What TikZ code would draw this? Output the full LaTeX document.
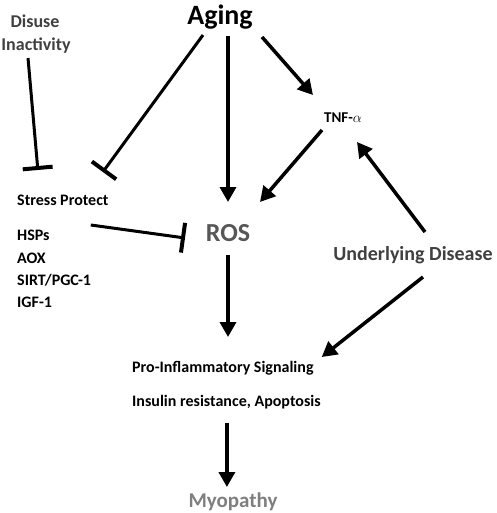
\documentclass[tikz,border=0pt]{standalone}
\usepackage{amsmath}
\usepackage{fontspec}
\setmainfont{Carlito}
\usepackage{tikz}
\usetikzlibrary{arrows.meta, calc, positioning}
\definecolor{txdark}{HTML}{404040}
\definecolor{txros}{HTML}{575757}
\definecolor{txmyo}{HTML}{7F7F7F}

\begin{document}
\begin{tikzpicture}[
    x=1pt, y=-1pt,
    lbl/.style={inner sep=0pt, font=\fontsize{16}{18}\selectfont\bfseries},
    arrow/.style={-{Triangle[length=15pt, width=16pt]}, line width=3.5pt, color=black},
    inhibit/.style={-{Bar[width=30pt, line width=4pt]}, line width=3pt, color=black}
]
\useasboundingbox (0,0) rectangle (496,513);

% Top row
\node[lbl, font=\fontsize{28}{30}\selectfont\bfseries] (aging) at (220,17) {Aging};
\node[lbl, font=\fontsize{18}{20}\selectfont\bfseries, color=txdark] (disuse) at (35,21) {Disuse};
\node[lbl, font=\fontsize{18}{20}\selectfont\bfseries, color=txdark] (inactivity) at (36,46) {Inactivity};
\node[lbl, font=\fontsize{15}{17}\selectfont\bfseries] (tnf) at (343,118) {TNF-$\alpha$};

% Protective factors
\node[lbl, anchor=west] (stress) at (17,200) {Stress Protect};
\node[lbl, anchor=west] (hsps) at (17,235) {HSPs};
\node[lbl, anchor=west] (aox) at (17,258) {AOX};
\node[lbl, anchor=west] (sirt) at (17,280) {SIRT/PGC-1};
\node[lbl, anchor=west] (igf) at (17,302) {IGF-1};

% Middle
\node[lbl, font=\fontsize{26}{28}\selectfont\bfseries, color=txros] (ros) at (228,233) {ROS};
\node[lbl, font=\fontsize{20}{22}\selectfont\bfseries, color=txdark] (disease) at (413,255) {Underlying Disease};

% Bottom
\node[lbl, anchor=west] (proinf) at (132,368) {Pro-Inflammatory Signaling};
\node[lbl, anchor=west] (insulin) at (132,402) {Insulin resistance, Apoptosis};
\node[lbl, font=\fontsize{21}{23}\selectfont\bfseries, color=txmyo] (myopathy) at (233,502) {Myopathy};

% Inhibitions
\draw[inhibit] ($(inactivity)+(-8,12)$) -- ($(stress)+(-25,-30)$);
\draw[inhibit] ($(aging)+(-17,18)$) -- ($(stress)+(40,-28)$);
\draw[inhibit] ($(hsps.east)+(41,-10)$) -- ($(ros)+(-43,5)$);

% Activations
\draw[arrow] ($(aging)+(8,19)$) -- ($(ros)+(0,-31)$);
\draw[arrow] ($(aging)+(42,20)$) -- ($(tnf)+(-30,-23)$);
\draw[arrow] ($(tnf)+(-21,12)$) -- ($(ros)+(32,-31)$);
\draw[arrow] ($(disease)+(12,-23)$) -- ($(tnf)+(14,24)$);
\draw[arrow] ($(ros)+(0,22)$) -- ($(ros |- proinf)+(0,-31)$);
\draw[arrow] ($(disease)+(10,22)$) -- ($(proinf.east)+(8,-11)$);
\draw[arrow] ($(insulin)+(0.5,21)$) -- ($(insulin |- myopathy)+(0.5,-15)$);

\end{tikzpicture}
\end{document}
